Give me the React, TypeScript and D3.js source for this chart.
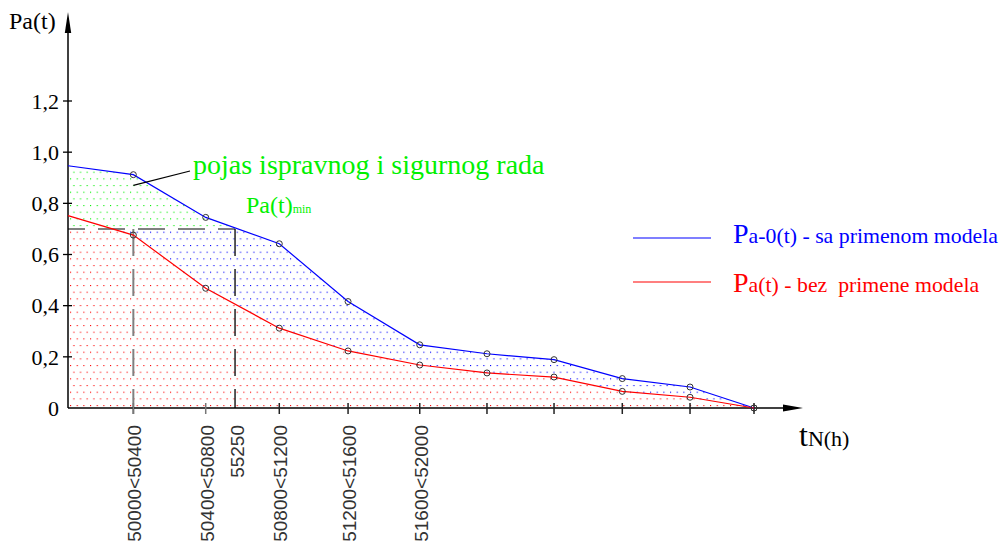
import React from 'react';
import * as d3 from 'd3';

const timeStart = 50000;
const timePoints = [50381, 50803, 51232, 51633, 52051, 52443, 52834, 53232, 53627, 54000];
const intervalLabels = ['50000<50400', '50400<50800', '50800<51200', '51200<51600', '51600<52000'];

// Pa-0(t) - sa primenom modela
const paStartSa = 0.947;
const paSaPrimenom = [0.912, 0.745, 0.642, 0.416, 0.247, 0.212, 0.189, 0.115, 0.082, 0];
// Pa(t) - bez primene modela
const paStartBez = 0.752;
const paBezPrimene = [0.676, 0.468, 0.312, 0.223, 0.168, 0.137, 0.121, 0.065, 0.042, 0];

const yTicks = [0, 0.2, 0.4, 0.6, 0.8, 1.0, 1.2];
const yTickLabels = ['0', '0,2', '0,4', '0,6', '0,8', '1,0', '1,2'];

const paMin = 0.7;
const paMinTime = 50974;
const paMinTimeLabel = '55250';

const BLUE = '#0000ff';
const RED = '#ff0000';
const GREEN = '#00f000';
const SERIF = "'Liberation Serif', 'DejaVu Serif', serif";
const SANS = "'Liberation Sans', sans-serif";

const App: React.FC = () => {
  const width = 1002;
  const height = 545;

  const x = d3.scaleLinear().domain([timeStart, 54000]).range([68, 754]);
  const y = d3.scaleLinear().domain([0, 1.2]).range([408, 101]);

  const rows = [{ t: timeStart, a: paStartSa, b: paStartBez }].concat(
    timePoints.map((t, i) => ({ t, a: paSaPrimenom[i], b: paBezPrimene[i] }))
  );

  const lineA = d3.line<any>().x((d) => x(d.t)).y((d) => y(d.a));
  const lineB = d3.line<any>().x((d) => x(d.t)).y((d) => y(d.b));
  const areaA = d3.area<any>().x((d) => x(d.t)).y0(y(0)).y1((d) => y(d.a));
  const areaB = d3.area<any>().x((d) => x(d.t)).y0(y(0)).y1((d) => y(d.b));
  const areaAB = d3.area<any>().x((d) => x(d.t)).y0((d) => y(d.b)).y1((d) => y(d.a));

  const yMin = y(paMin);
  const x0 = x(timeStart);

  const serif = (size: number) => ({ fontFamily: SERIF, fontSize: size });

  const dotPattern = (id: string, color: string) => (
    <pattern id={id} patternUnits="userSpaceOnUse" x={70} y={365} width={20 / 3} height={40 / 3}>
      <rect x={0} y={0} width={1.1} height={1.1} fill={color} />
      <rect x={10 / 3} y={20 / 3} width={1.1} height={1.1} fill={color} />
    </pattern>
  );

  return (
    <svg width={width} height={height} style={{ position: 'absolute', left: 0, top: 0, background: '#fff' }}>
      <defs>
        {dotPattern('dotsGreen', GREEN)}
        {dotPattern('dotsBlue', BLUE)}
        {dotPattern('dotsRed', RED)}
        <clipPath id="aboveMin">
          <rect x={0} y={0} width={width} height={yMin} />
        </clipPath>
        <clipPath id="belowMin">
          <rect x={0} y={yMin} width={width} height={height - yMin} />
        </clipPath>
      </defs>

      {/* dotted regions */}
      <path d={areaA(rows) || ''} fill="url(#dotsGreen)" clipPath="url(#aboveMin)" />
      <path d={areaAB(rows) || ''} fill="url(#dotsBlue)" clipPath="url(#belowMin)" />
      <path d={areaB(rows) || ''} fill="url(#dotsRed)" clipPath="url(#belowMin)" />

      {/* Pa(t)min guides */}
      <line x1={x0} x2={x(paMinTime)} y1={yMin} y2={yMin} stroke="#808080" strokeWidth={2}
        strokeDasharray="27 13" strokeDashoffset={10} />
      <line x1={x(timePoints[0])} x2={x(timePoints[0])} y1={yMin} y2={y(0) + 6} stroke="#808080" strokeWidth={2}
        strokeDasharray="27 13" />
      <line x1={x(paMinTime)} x2={x(paMinTime)} y1={yMin} y2={y(0)} stroke="#000" strokeWidth={1.3}
        strokeDasharray="27 13" />

      {/* axes */}
      <line x1={x0} x2={785} y1={y(0)} y2={y(0)} stroke="#000" strokeWidth={1.5} />
      <polygon points={`803,${y(0)} 783,${y(0) - 3.5} 783,${y(0) + 3.5}`} fill="#000" />
      <line x1={x0} x2={x0} y1={y(0)} y2={30} stroke="#000" strokeWidth={1.5} />
      <polygon points={`${x0},12 ${x0 - 3.2},33 ${x0 + 3.2},33`} fill="#000" />

      {yTicks.map((v, i) => (
        <g key={'yt' + i}>
          {v > 0 && <line x1={x0 - 5} x2={x0 + 4} y1={y(v)} y2={y(v)} stroke="#000" strokeWidth={1.3} />}
          <text x={59} y={y(v)} dy="0.35em" textAnchor="end" style={serif(22)} fill="#000">
            {yTickLabels[i]}
          </text>
        </g>
      ))}
      <text x={9} y={29} style={serif(24)} fill="#000">Pa(t)</text>

      {timePoints.map((t, i) => (
        <line key={'xt' + i} x1={x(t)} x2={x(t)} y1={y(0) - 5} y2={y(0) + 6}
          stroke={i < 2 ? '#777' : '#222'} strokeWidth={1.5} />
      ))}
      {intervalLabels.map((lab, i) => (
        <text key={'xl' + i} transform={`translate(${x(timePoints[i]) + 1.5},425) rotate(-90)`}
          textAnchor="end" dy="0.35em" style={{ fontFamily: SANS, fontSize: 19 }} fill="#333">
          {lab}
        </text>
      ))}
      <text transform={`translate(${x(paMinTime) + 2},425) rotate(-90)`} textAnchor="end" dy="0.35em"
        style={{ fontFamily: SANS, fontSize: 19 }} fill="#333">
        {paMinTimeLabel}
      </text>

      <text x={799} y={446} style={serif(32)} fill="#000">
        t<tspan style={{ fontSize: 22 }}>N(h)</tspan>
      </text>

      {/* series */}
      <path d={lineA(rows) || ''} fill="none" stroke={BLUE} strokeWidth={1.2} />
      <path d={lineB(rows) || ''} fill="none" stroke={RED} strokeWidth={1.2} />
      {timePoints.map((t, i) => (
        <g key={'pt' + i}>
          <circle cx={x(t)} cy={y(paSaPrimenom[i])} r={3} fill="none" stroke="#333" strokeWidth={1} />
          <circle cx={x(t)} cy={y(paBezPrimene[i])} r={3} fill="none" stroke="#333" strokeWidth={1} />
        </g>
      ))}

      {/* annotations */}
      <line x1={x(timePoints[0])} y1={y(0.87)} x2={190} y2={171} stroke="#000" strokeWidth={1.2} />
      <text x={193} y={174} style={serif(28)} fill={GREEN}>pojas ispravnog i sigurnog rada</text>
      <text x={246} y={213} style={serif(24)} fill={GREEN}>
        Pa(t)<tspan style={{ fontSize: 12 }}>min</tspan>
      </text>

      {/* legend */}
      <line x1={633} x2={711} y1={238} y2={238} stroke={BLUE} strokeWidth={1.2} />
      <text x={733} y={243} style={serif(28)} fill={BLUE}>
        P<tspan style={{ fontSize: 21.8 }}>a-0(t) - sa primenom modela</tspan>
      </text>
      <line x1={633} x2={711} y1={282} y2={282} stroke={RED} strokeWidth={1.2} />
      <text x={733} y={292} style={{ ...serif(28), whiteSpace: 'pre' }} fill={RED}>
        P<tspan style={{ fontSize: 21.8 }}>{'a(t) - bez  primene modela'}</tspan>
      </text>
    </svg>
  );
};

export default App;
